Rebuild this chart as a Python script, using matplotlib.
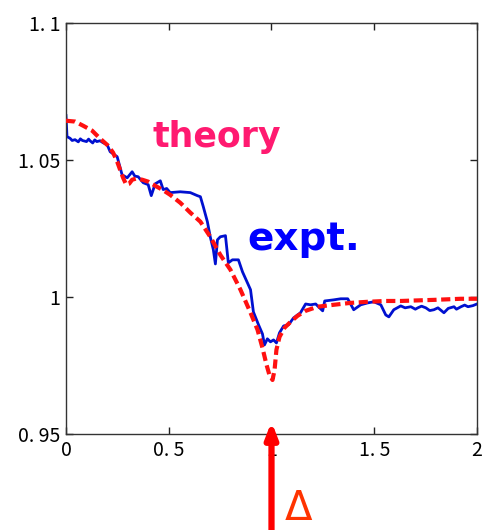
import matplotlib
matplotlib.use("Agg")
import matplotlib.pyplot as plt

# experimental curve (blue)
expt_x = [0.0, 0.005, 0.02, 0.03, 0.044, 0.06, 0.07, 0.08, 0.1, 0.11, 0.117, 0.13, 0.14, 0.15, 0.166, 0.18,
          0.2, 0.215, 0.249, 0.273, 0.298, 0.322, 0.335, 0.351, 0.376, 0.400, 0.415, 0.434,
          0.459, 0.473, 0.49, 0.507, 0.556, 0.605, 0.639, 0.654, 0.668, 0.688, 0.702,
          0.717, 0.727, 0.737, 0.751, 0.776, 0.790, 0.810, 0.839, 0.859, 0.883,
          0.898, 0.912, 0.937, 0.956, 0.966, 0.980, 0.995, 1.010, 1.024, 1.039,
          1.059, 1.083, 1.107, 1.141, 1.166, 1.190, 1.215, 1.249, 1.259, 1.302,
          1.337, 1.371, 1.400, 1.434, 1.468, 1.498, 1.532, 1.556, 1.571, 1.595,
          1.629, 1.65, 1.678, 1.70, 1.712, 1.73, 1.751, 1.77, 1.790, 1.81, 1.839, 1.86,
          1.888, 1.90, 1.922, 1.94, 1.956, 1.98, 2.0]
expt_y = [1.0661, 1.0584, 1.0578, 1.0570, 1.0573, 1.0565, 1.0576, 1.0570, 1.0566, 1.0575, 1.0569, 1.0561, 1.0572, 1.0566, 1.0569, 1.0562,
          1.0555, 1.0529, 1.0511, 1.0445, 1.0434, 1.0456, 1.0440, 1.0438, 1.0416, 1.0409, 1.0369, 1.0412,
          1.0423, 1.0391, 1.0395, 1.0380, 1.0383, 1.0380, 1.0369, 1.0365, 1.0329, 1.0274, 1.0219,
          1.0172, 1.0120, 1.0208, 1.0219, 1.0223, 1.0124, 1.0135, 1.0135, 1.0091, 1.0051,
          1.0026, 0.9945, 0.9898, 0.9865, 0.9825, 0.9847, 0.9836, 0.9843, 0.9832, 0.9869,
          0.9894, 0.9898, 0.9923, 0.9942, 0.9974, 0.9971, 0.9974, 0.9949, 0.9985, 0.9989,
          0.9993, 0.9993, 0.9953, 0.9971, 0.9978, 0.9982, 0.9971, 0.9934, 0.9927, 0.9953,
          0.9967, 0.9960, 0.9964, 0.9955, 0.9960, 0.9966, 0.9960, 0.9950, 0.9953, 0.9960, 0.9942, 0.9958,
          0.9964, 0.9955, 0.9964, 0.9970, 0.9964, 0.9968, 0.9974]

# theory curve (red dashed)
theory_x = [0.0, 0.044, 0.083, 0.127, 0.166, 0.205, 0.229, 0.249, 0.263, 0.278,
            0.293, 0.307, 0.322, 0.341, 0.371, 0.400, 0.434, 0.468, 0.507, 0.556,
            0.605, 0.654, 0.702, 0.751, 0.800, 0.849, 0.898, 0.932, 0.956, 0.976,
            0.990, 1.005, 1.015, 1.024, 1.039, 1.063, 1.093, 1.127, 1.166, 1.224,
            1.302, 1.385, 1.468, 1.556, 1.629, 1.790, 1.922, 2.0]
theory_y = [1.0642, 1.0639, 1.0624, 1.0606, 1.0577, 1.0551, 1.0526, 1.0493, 1.0464, 1.0434,
            1.0409, 1.0412, 1.0427, 1.0431, 1.0427, 1.0420, 1.0405, 1.0391, 1.0372, 1.0343,
            1.0307, 1.0274, 1.0219, 1.0153, 1.0099, 1.0026, 0.9942, 0.9880, 0.9814, 0.9752,
            0.9715, 0.9697, 0.9734, 0.9807, 0.9854, 0.9887, 0.9909, 0.9931, 0.9949, 0.9964,
            0.9971, 0.9978, 0.9982, 0.9985, 0.9985, 0.9989, 0.9993, 0.9993]

x_ticks = [0, 0.5, 1, 1.5, 2]
x_labels = ["0", "0. 5", "1", "1. 5", "2"]
y_ticks = [0.95, 1.0, 1.05, 1.1]
y_labels = ["0. 95", "1", "1. 05", "1. 1"]

fig = plt.figure(figsize=(4.83, 5.30), dpi=100)
ax = fig.add_axes([0.1366, 0.1811, 0.8510, 0.7764])

ax.plot(expt_x, expt_y, color="#0010d0", lw=2.0, zorder=2)
ax.plot(theory_x, theory_y, color="#ff1010", lw=3.0, linestyle=(0, (2.2, 1.1)), zorder=3)

ax.set_xlim(0, 2)
ax.set_ylim(0.95, 1.1)
ax.set_xticks(x_ticks)
ax.set_xticklabels(x_labels)
ax.set_yticks(y_ticks)
ax.set_yticklabels(y_labels)
ax.tick_params(direction="in", length=5, width=1, top=True, right=True,
               labelsize=14, pad=4, color="#222222")
for lab in ax.get_xticklabels() + ax.get_yticklabels():
    lab.set_family(["Noto Sans CJK JP", "DejaVu Sans"])
for s in ax.spines.values():
    s.set_color("#333333")
    s.set_linewidth(1.0)

ax.text(0.732, 1.0582, "theory", color="#ff1a70", fontsize=25, fontweight="bold",
        ha="center", va="center", family=["DejaVu Sans"])
ax.text(1.156, 1.0210, "expt.", color="#0000ff", fontsize=28, fontweight="bold",
        ha="center", va="center", family=["DejaVu Sans"])

ax.annotate("", xy=(1.0, 0.9545), xytext=(1.0, 0.913), annotation_clip=False,
            arrowprops=dict(arrowstyle="-|>,head_length=0.9,head_width=0.35",
                            color="#ff0000", lw=4.5, shrinkA=0, shrinkB=0))
ax.text(1.13, 0.9225, "Δ", color="#ff3300", fontsize=29, ha="center", va="center",
        clip_on=False, family=["DejaVu Sans"])

fig.savefig("out.png", dpi=100)
